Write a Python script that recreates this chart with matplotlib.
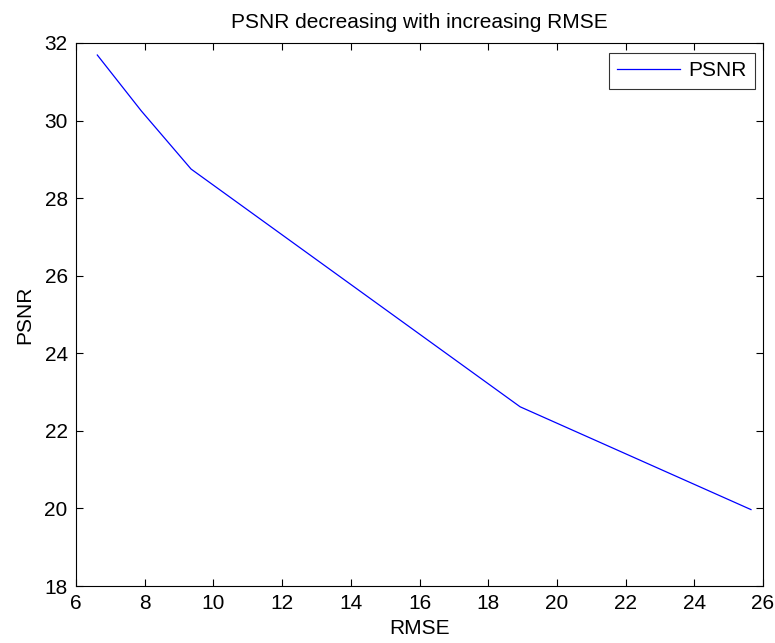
import matplotlib
matplotlib.use("Agg")
import matplotlib.pyplot as plt

# RMSE values and the PSNR measured at each of them
rmse = [6.62, 7.90, 9.35, 18.93, 25.65]
psnr = [31.69, 30.25, 28.75, 22.62, 19.97]

x_ticks = [6, 8, 10, 12, 14, 16, 18, 20, 22, 24, 26]
y_ticks = [18, 20, 22, 24, 26, 28, 30, 32]

plt.rcParams["font.family"] = ["Liberation Sans", "DejaVu Sans"]
FS = 15

fig = plt.figure(figsize=(7.75, 6.43), dpi=100)
ax = fig.add_axes([76 / 775, 1 - 586 / 643, (763 - 76) / 775, (586 - 43) / 643])

ax.plot(rmse, psnr, color="#0000ff", lw=0.9, label="PSNR")

ax.set_xlim(6, 26)
ax.set_ylim(18, 32)
ax.set_xticks(x_ticks)
ax.set_yticks(y_ticks)
ax.tick_params(direction="in", length=5.2, width=0.8, top=True, right=True,
               labelsize=FS, pad=6, colors="black")
for s in ax.spines.values():
    s.set_linewidth(0.8)
    s.set_color("black")

ax.set_title("PSNR decreasing with increasing RMSE", fontsize=FS, pad=11)
ax.set_xlabel("RMSE", fontsize=FS, labelpad=4)
ax.set_ylabel("PSNR", fontsize=FS, labelpad=7)

leg = ax.legend(loc="upper right", bbox_to_anchor=(755 / 775, 1 - 53 / 643),
                bbox_transform=fig.transFigure, fontsize=FS, frameon=True,
                fancybox=False, edgecolor="black", handlelength=3.0,
                handletextpad=0.4, borderpad=0.4, borderaxespad=0)
leg.get_frame().set_linewidth(0.8)

fig.savefig("out.png", dpi=100, facecolor="white")
